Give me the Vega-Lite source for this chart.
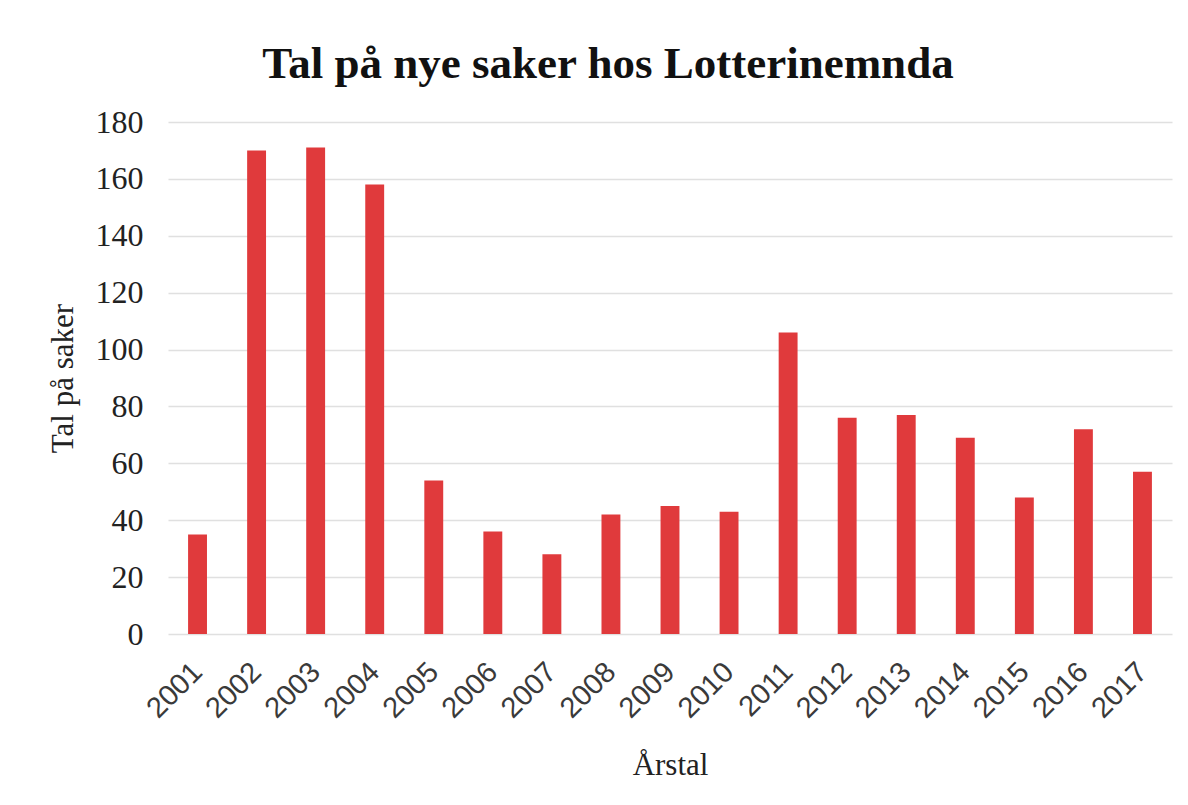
{
  "$schema": "https://vega.github.io/schema/vega-lite/v6.json",
  "autosize": "none",
  "width": 1004,
  "height": 512,
  "padding": {"left": 168, "top": 122, "right": 16, "bottom": 171},
  "background": "white",
  "title": {
    "text": "Tal på nye saker hos Lotterinemnda",
    "font": "Liberation Serif",
    "fontSize": 45,
    "fontWeight": "bold",
    "color": "#111111",
    "anchor": "middle",
    "frame": "group",
    "dx": -62,
    "dy": 59,
    "baseline": "alphabetic",
    "offset": 42
  },
  "data": {
    "values": [
      {"year": "2001", "saker": 35},
      {"year": "2002", "saker": 170},
      {"year": "2003", "saker": 171},
      {"year": "2004", "saker": 158},
      {"year": "2005", "saker": 54},
      {"year": "2006", "saker": 36},
      {"year": "2007", "saker": 28},
      {"year": "2008", "saker": 42},
      {"year": "2009", "saker": 45},
      {"year": "2010", "saker": 43},
      {"year": "2011", "saker": 106},
      {"year": "2012", "saker": 76},
      {"year": "2013", "saker": 77},
      {"year": "2014", "saker": 69},
      {"year": "2015", "saker": 48},
      {"year": "2016", "saker": 72},
      {"year": "2017", "saker": 57}
    ]
  },
  "mark": {"type": "bar", "color": "#e03a3c"},
  "encoding": {
    "x": {
      "field": "year",
      "type": "ordinal",
      "scale": {"paddingInner": 0.68, "paddingOuter": 0.34},
      "axis": {
        "title": "Årstal",
        "titleFont": "Liberation Serif",
        "titleFontSize": 31,
        "titleFontWeight": "normal",
        "titleColor": "#222222",
        "titleY": 131,
        "titleBaseline": "middle",
        "labelAngle": -45,
        "labelAlign": "right",
        "labelBaseline": "middle",
        "labelFont": "Liberation Sans",
        "labelFontSize": 29,
        "labelColor": "#3a3a3a",
        "labelPadding": 33,
        "ticks": false,
        "domain": false,
        "grid": false
      }
    },
    "y": {
      "field": "saker",
      "type": "quantitative",
      "scale": {"domain": [0, 180], "nice": false},
      "axis": {
        "title": "Tal på saker",
        "titleFont": "Liberation Serif",
        "titleFontSize": 31,
        "titleFontWeight": "normal",
        "titleColor": "#222222",
        "titleX": -105,
        "titleY": 256,
        "titleAngle": -90,
        "titleAlign": "center",
        "titleBaseline": "middle",
        "values": [0, 20, 40, 60, 80, 100, 120, 140, 160, 180],
        "labelFont": "Liberation Serif",
        "labelFontSize": 32,
        "labelColor": "#222222",
        "labelPadding": 25,
        "ticks": false,
        "domain": false,
        "grid": true,
        "gridColor": "#e0e0e0",
        "gridWidth": 1.5
      }
    }
  },
  "config": {"view": {"stroke": null}}
}
